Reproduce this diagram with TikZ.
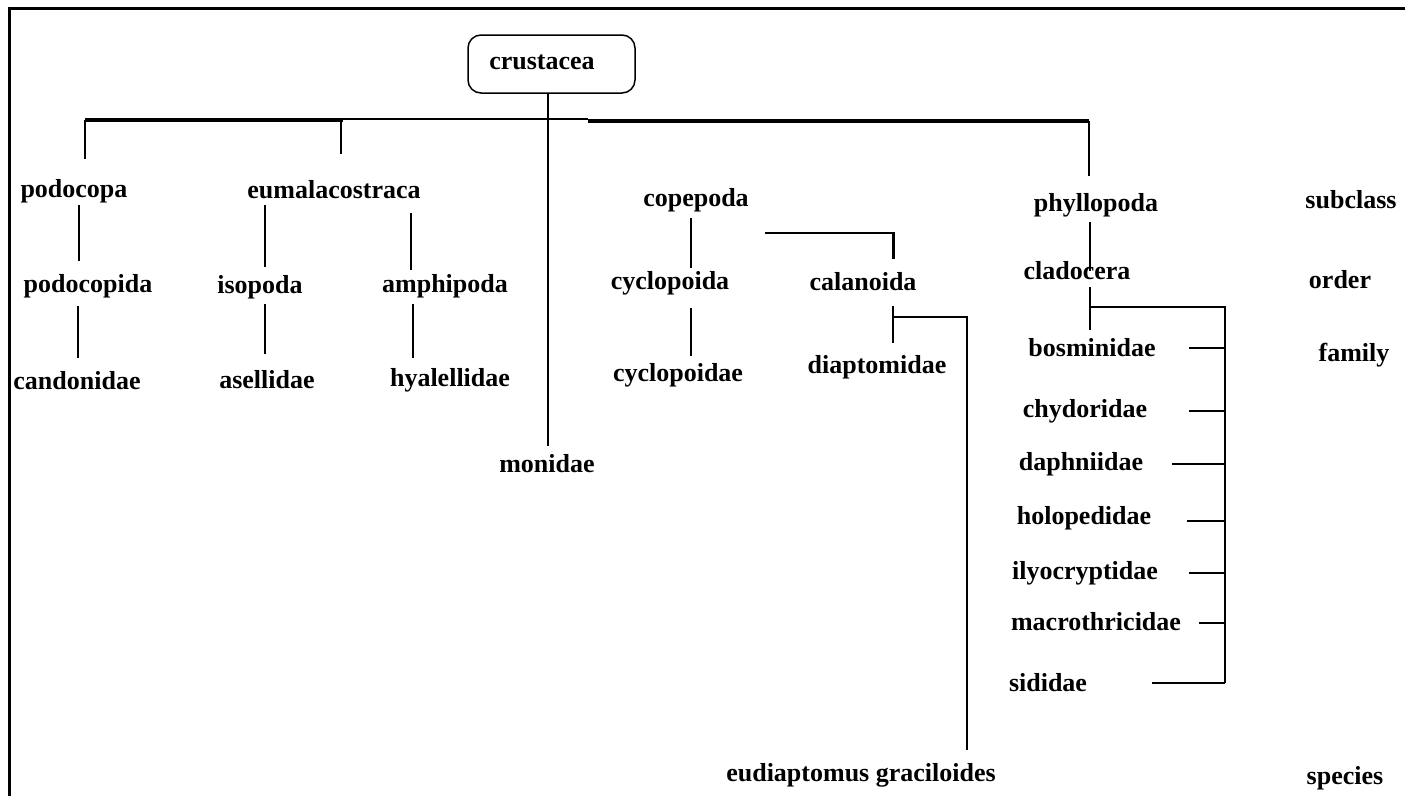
\documentclass[tikz,border=0pt]{standalone}
\usepackage{fontspec}
\setmainfont{Liberation Serif}
\begin{document}
\begin{tikzpicture}[x=1pt,y=-1pt,
  lbl/.style={font=\fontsize{26}{30}\selectfont\bfseries, inner sep=0pt},
  ln/.style={line width=1.8pt},
  thk/.style={line width=4pt},
  boxed/.style={draw, line width=1.5pt, rounded corners=13pt, minimum width=167pt, minimum height=58pt, inner sep=0pt}]
\useasboundingbox (0,0) rectangle (1405,796);
\fill[white] (0,0) rectangle (1405,796);
% frame
\draw[line width=3pt] (9,796) -- (9,8) -- (1405,8);

% nodes
\node[boxed] (box) at (551.5,64) {};
\node[lbl] (crustacea) at (542,62) {crustacea};
\node[lbl] (podocopa) at (74,191) {podocopa};
\node[lbl] (eumal) at (334,190) {eumalacostraca};
\node[lbl] (podocopida) at (88,286) {podocopida};
\node[lbl] (isopoda) at (260,287) {isopoda};
\node[lbl] (amphipoda) at (445,286) {amphipoda};
\node[lbl] (candonidae) at (77,381) {candonidae};
\node[lbl] (asellidae) at (267,380) {asellidae};
\node[lbl] (hyalellidae) at (450,380) {hyalellidae};
\node[lbl] (monidae) at (547,464) {monidae};
\node[lbl] (copepoda) at (696,200) {copepoda};
\node[lbl] (cyclopoida) at (670,283) {cyclopoida};
\node[lbl] (cyclopoidae) at (678,375) {cyclopoidae};
\node[lbl] (calanoida) at (863,282) {calanoida};
\node[lbl] (diaptomidae) at (877,367) {diaptomidae};
\node[lbl] (eudiaptomus) at (861,775) {eudiaptomus graciloides};
\node[lbl] (phyllopoda) at (1096,205) {phyllopoda};
\node[lbl] (cladocera) at (1077,271) {cladocera};
\node[lbl] (bosminidae) at (1092,348) {bosminidae};
\node[lbl] (chydoridae) at (1085,411) {chydoridae};
\node[lbl] (daphniidae) at (1081,464) {daphniidae};
\node[lbl] (holopedidae) at (1084,518) {holopedidae};
\node[lbl] (ilyocryptidae) at (1085,573) {ilyocryptidae};
\node[lbl] (macrothricidae) at (1096,622) {macrothricidae};
\node[lbl] (sididae) at (1048,683) {sididae};
\node[lbl] (subclass) at (1351,200) {subclass};
\node[lbl] (order) at (1340,280) {order};
\node[lbl] (family) at (1354,355) {family};
\node[lbl] (species) at (1345,778) {species};

% coordinates
\coordinate (barL) at (85,120);
\coordinate (barE) at (341,120);
\coordinate (barM) at (588,121);
\coordinate (barR) at (1089,121);
\coordinate (pcA) at (85,159);
\coordinate (euA) at (341,154);
\coordinate (mon) at (548,446);
\coordinate (phA) at (1089,176);

% top bar
\draw[thk] (barL) -- (343,120);
\draw[ln] (343,119) -- (588,119);
\draw[thk] (barM) -- (barR);
\draw[ln] (barR) -- (phA);
\draw[ln] (barL) -- (pcA);
\draw[ln] (barE) -- (euA);
\draw[ln] (box.south -| mon) -- (mon);

% podocopa branch
\draw[ln] (79,205) -- (79,261);
\draw[ln] (78,306) -- (78,358);
% eumalacostraca branch
\draw[ln] (265,205) -- (265,267);
\draw[ln] (411,213) -- (411,270);
\draw[ln] (265,304) -- (265,354);
\draw[ln] (413,304) -- (413,358);

% copepoda branch
\draw[ln] (691,218) -- (691,268);
\draw[ln] (691,308) -- (691,356);
\draw[ln] (765,233) -- (893,233);
\draw[line width=3pt] (893,232) -- (893,259);
\draw[ln] (893,306) -- (893,343);
\draw[ln] (893,317) -- (967,317) -- (967,750);

% phyllopoda branch
\draw[ln] (1090,222) -- (1090,271);
\draw[ln] (1090,287) -- (1090,330);
\draw[ln] (1090,307) -- (1225,307) -- (1225,683);
\draw[ln] (1189,348) -- (1225,348);
\draw[ln] (1189,411) -- (1225,411);
\draw[ln] (1172,464) -- (1225,464);
\draw[ln] (1187,521) -- (1225,521);
\draw[ln] (1189,573) -- (1225,573);
\draw[ln] (1199,623) -- (1225,623);
\draw[ln] (1152,683) -- (1225,683);
\end{tikzpicture}
\end{document}
